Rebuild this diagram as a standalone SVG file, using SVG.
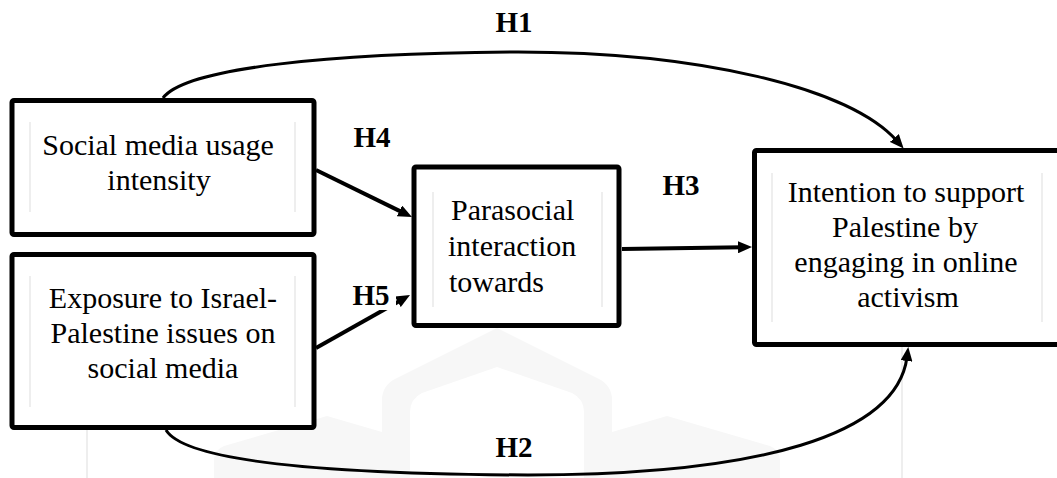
<svg xmlns="http://www.w3.org/2000/svg" width="1057" height="478" viewBox="0 0 1057 478">
  <style>
    .box { fill: #ffffff; stroke: #000000; stroke-width: 5; stroke-linejoin: round; }
    .node { font-family: "Liberation Serif", "Times New Roman", serif; font-size: 30px; fill: #000000; }
    .lbl { font-family: "Liberation Serif", "Times New Roman", serif; font-size: 29px; font-weight: bold; fill: #000000; text-anchor: middle; }
    .edge { fill: none; stroke: #000000; stroke-width: 4; }
    .curve { fill: none; stroke: #000000; stroke-width: 3; }
    .frame { stroke: #e8e8e8; stroke-width: 1.5; fill: none; }
    .wm { fill: #f7f7f7; stroke: none; }
  </style>
  <defs>
    <marker id="arrow" markerUnits="userSpaceOnUse" markerWidth="14" markerHeight="12" refX="4" refY="6" orient="auto">
      <path d="M0,0 L14,6 L0,12 Z" fill="#000000"/>
    </marker>
  </defs>
  <rect width="1057" height="478" fill="#ffffff"/>

  <g id="watermark">
    <path class="wm" d="M382,478 L382,400 Q382,386 395,379 L497,328 L599,379 Q612,386 612,400 L612,478 Z"/>
    <path fill="#ffffff" d="M410,478 L410,412 Q410,399 422,393 L497,367 L572,393 Q584,399 584,412 L584,478 Z"/>
    <path class="wm" d="M612,478 L612,432 L667,416 L770,446 Q780,450 780,460 L780,478 Z"/>
    <path class="wm" d="M382,478 L382,432 L327,416 L224,446 Q214,450 214,460 L214,478 Z"/>
    <line class="frame" x1="87" y1="363" x2="87" y2="478"/>
    <line class="frame" x1="902" y1="347" x2="902" y2="478"/>
  </g>

  <g id="connectors">
    <path class="curve" d="M163,98 C185,68 330,53 518,52 C700,52 850,88 897,141" marker-end="url(#arrow)"/>
    <path class="curve" d="M166,430 C185,462 330,474 528,475 C760,475 897,435 907,357" marker-end="url(#arrow)"/>
    <line class="edge" x1="316" y1="170" x2="403" y2="212.6" marker-end="url(#arrow)"/>
    <line class="edge" x1="316" y1="348" x2="401.3" y2="299.9" marker-end="url(#arrow)"/>
    <line class="edge" x1="622" y1="249" x2="742" y2="247.2" marker-end="url(#arrow)"/>
  </g>

  <g id="node-social-media">
    <rect class="box" x="12" y="100.5" width="302" height="134" rx="2"/>
    <line class="frame" x1="30" y1="122" x2="30" y2="212"/>
    <line class="frame" x1="295" y1="122" x2="295" y2="212"/>
    <text class="node" text-anchor="middle" x="158" y="155">Social media usage</text>
    <text class="node" text-anchor="middle" x="159" y="190">intensity</text>
  </g>

  <g id="node-exposure">
    <rect class="box" x="12" y="254.5" width="302" height="173" rx="2"/>
    <line class="frame" x1="30" y1="276" x2="30" y2="407"/>
    <line class="frame" x1="295" y1="276" x2="295" y2="407"/>
    <text class="node" text-anchor="middle" x="163" y="308">Exposure to Israel-</text>
    <text class="node" text-anchor="middle" x="163" y="343">Palestine issues on</text>
    <text class="node" text-anchor="middle" x="163" y="378">social media</text>
  </g>

  <g id="node-parasocial">
    <rect class="box" x="414" y="167" width="205" height="158.5" rx="2"/>
    <line class="frame" x1="433" y1="192" x2="433" y2="307"/>
    <line class="frame" x1="602" y1="192" x2="602" y2="307"/>
    <text class="node" x="451" y="220">Parasocial</text>
    <text class="node" x="448" y="256">interaction</text>
    <text class="node" x="449" y="292">towards</text>
  </g>

  <g id="node-intention">
    <rect class="box" x="754.5" y="150.5" width="310" height="194" rx="2"/>
    <line class="frame" x1="772" y1="173" x2="772" y2="322"/>
    <line class="frame" x1="1042" y1="173" x2="1042" y2="322"/>
    <text class="node" text-anchor="middle" x="906" y="202">Intention to support</text>
    <text class="node" text-anchor="middle" x="905" y="237">Palestine by</text>
    <text class="node" text-anchor="middle" x="906" y="272">engaging in online</text>
    <text class="node" text-anchor="middle" x="908" y="307">activism</text>
  </g>

  <g id="labels">
    <text class="lbl" x="514" y="32">H1</text>
    <text class="lbl" x="372" y="147">H4</text>
    <text class="lbl" x="681" y="195">H3</text>
    <rect x="348" y="280" width="48" height="30" fill="#ffffff"/>
    <text class="lbl" x="371" y="305">H5</text>
    <text class="lbl" x="514" y="457">H2</text>
  </g>
</svg>
